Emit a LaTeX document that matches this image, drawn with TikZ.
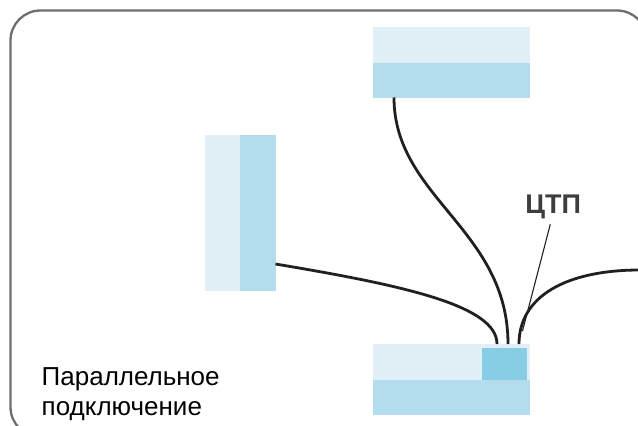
\documentclass[tikz,border=0pt]{standalone}
\usepackage{fontspec}
\setmainfont{Liberation Sans}
\usetikzlibrary{positioning,calc}
\definecolor{framegray}{HTML}{6E6E6E}
\definecolor{paleblue}{HTML}{E1F0F7}
\definecolor{midblue}{HTML}{B3DCEC}
\definecolor{deepblue}{HTML}{87CDE5}
\definecolor{cablegray}{HTML}{231F20}
\definecolor{labelgray}{HTML}{3D3D3D}

\begin{document}
\begin{tikzpicture}[
  x=1pt,y=-1pt,
  node distance=0pt,
  slab/.style={inner sep=0pt,outer sep=0pt,anchor=north west},
  pale/.style={slab,fill=paleblue},
  mid/.style={slab,fill=midblue},
  unit/.style={slab,fill=deepblue},
  cable/.style={draw=cablegray,line width=2.8pt},
  leader/.style={draw=cablegray,line width=1.1pt},
  caption/.style={inner sep=0pt,font=\fontsize{26}{30}\selectfont,text=black,align=left}
]
  \useasboundingbox (0,0) rectangle (638,426);
  \clip (0,0) rectangle (638,426);

  % outer frame
  \draw[framegray,line width=2.3pt,rounded corners=30pt] (10.5,10.5) rectangle (647,437);

  % top building
  \node[pale,minimum width=157pt,minimum height=35.5pt] (topA) at (373,27) {};
  \node[mid,minimum width=157pt,minimum height=35pt,below=of topA.south west,anchor=north west] (topB) {};

  % left building
  \node[pale,minimum width=35pt,minimum height=155.5pt] (sideA) at (205,135) {};
  \node[mid,minimum width=35.5pt,minimum height=155.5pt,right=of sideA.north east,anchor=north west] (sideB) {};

  % bottom building with substation
  \node[pale,minimum width=157pt,minimum height=36pt] (baseA) at (373,344) {};
  \node[mid,minimum width=157pt,minimum height=35pt,below=of baseA.south west,anchor=north west] (baseB) {};
  \node[unit,minimum width=45pt,minimum height=32pt,anchor=south east] (tp) at ($(baseA.south east)+(-3.5,0)$) {};

  % cables
  \coordinate (feed) at (640,270);
  \draw[cable] ($(topB.south west)+(21,0)$) .. controls +(0,100) and +(0,-115) .. ($(baseA.north west)+(135,0)$);
  \draw[cable] ($(sideB.south east)+(0,-26.5)$) .. controls +(125,21) and +(0,-39) .. ($(baseA.north west)+(124,0)$);
  \draw[cable] (feed) .. controls +(-75,0) and +(0,-47) .. ($(baseA.north west)+(146,0)$);

  % labels
  \node[inner sep=0pt,anchor=base,font=\fontsize{27}{30}\bfseries\selectfont,text=labelgray] (tplabel) at (553.3,213.3) {ЦТП};
  \coordinate (tpend) at (522.5,331);
  \draw[leader] ($(tplabel.base)+(-3,11)$) -- (tpend);

  \node[caption,anchor=north west] (scheme) at (41.5,367) {Параллельное\\подключение};
\end{tikzpicture}
\end{document}
